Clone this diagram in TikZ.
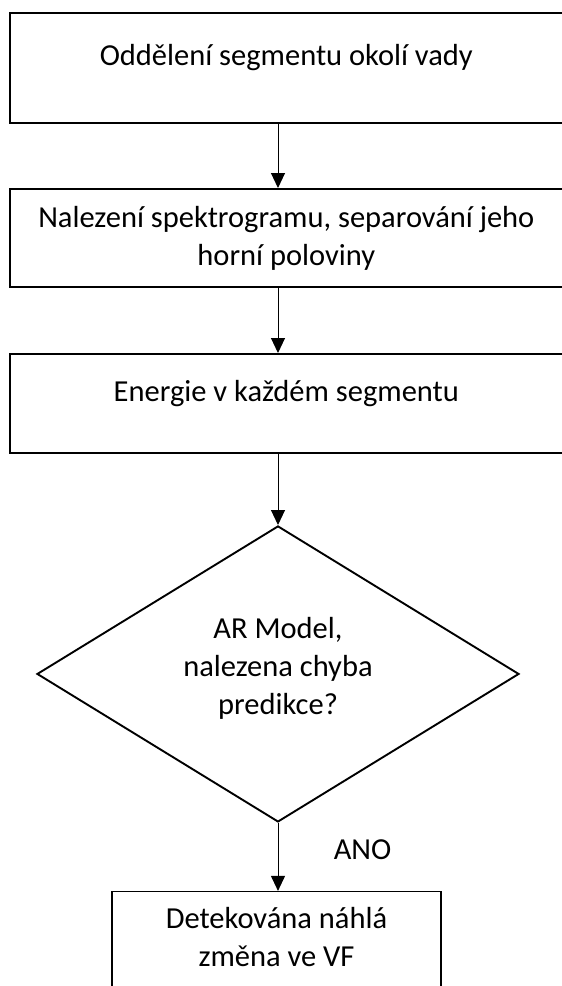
\documentclass[tikz,border=0pt]{standalone}
\usepackage{fontspec}
\setmainfont{Carlito}
\usetikzlibrary{shapes.geometric, positioning}
\usetikzlibrary{arrows.meta}
\tikzstyle{process} = [rectangle, minimum width=553pt, minimum height=110pt, align=center, draw=black, line width=2pt, inner sep=0pt]
\tikzstyle{uptext} = [text height=23pt, text depth=28pt]
\tikzstyle{decision} = [diamond, aspect=1.63, minimum width=482pt, minimum height=296pt, align=center, draw=black, line width=1.9pt, inner sep=0pt, text depth=16pt]
\tikzstyle{arrow} = [line width=1pt,-{Triangle[width=14pt,length=15pt]}]

\begin{document}
\begin{tikzpicture}[x=1pt, y=-1pt, font=\fontsize{30.5}{38}\selectfont]
    \useasboundingbox (0,0) rectangle (562,986);
    \clip (0,0) rectangle (562,986);
    \node (seg) [process, uptext] at (286.3,68) {Oddělení segmentu okolí vady};
    \node (spec) [process, minimum height=98pt, below=64pt of seg] {Nalezení spektrogramu, separování jeho\\horní poloviny};
    \node (energy) [process, uptext, minimum height=99pt, below=65pt of spec] {Energie v každém segmentu};
    \node (armodel) [decision, below=71pt of energy, xshift=-8.3pt] {AR Model,\\nalezena chyba\\predikce?};
    \node (detect) [process, minimum width=329pt, line width=1.3pt, text depth=20pt, below=68pt of armodel, xshift=-1.5pt] {Detekována náhlá\\změna ve VF};
    \draw [arrow] (seg.south -| armodel.north) -- (spec.north -| armodel.north);
    \draw [arrow] (spec.south -| armodel.north) -- (energy.north -| armodel.north);
    \draw [arrow] (energy.south -| armodel.north) -- (armodel.north);
    \draw [arrow] (armodel.south) -- node [pos=0.4, right=52pt] (ano) {ANO} (detect.north -| armodel.south);
\end{tikzpicture}
\end{document}
